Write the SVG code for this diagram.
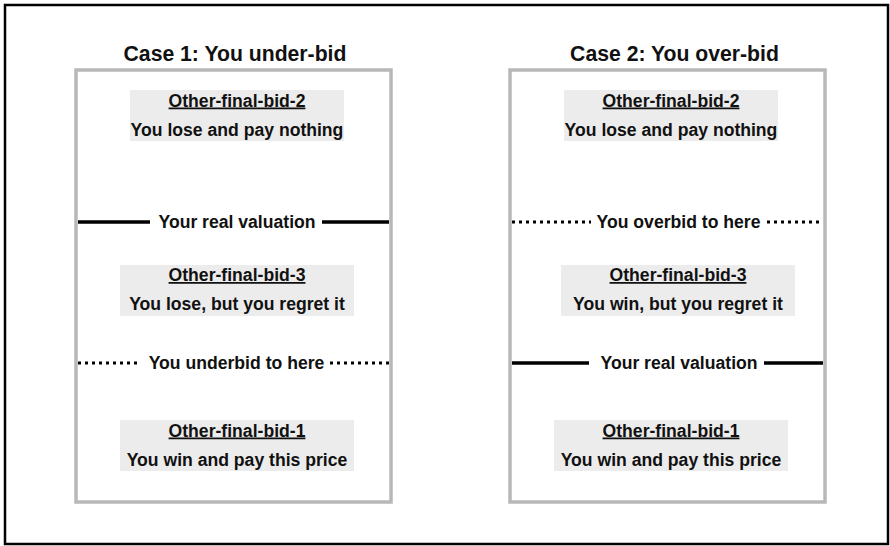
<svg xmlns="http://www.w3.org/2000/svg" width="890" height="546" viewBox="0 0 890 546">
<style>
text{font-family:"Liberation Sans",Arial,sans-serif;font-weight:bold;fill:#111;text-anchor:middle}
.title{font-size:21.2px}
.lbl{font-size:17.6px}
.u{text-decoration:underline}
.panel{fill:#fff;stroke:#b8b8b8;stroke-width:3.5}
.box{fill:#ececec;stroke:none}
.solid{stroke:#000;stroke-width:3.5;fill:none}
.dot{stroke:#000;stroke-width:3;fill:none;stroke-dasharray:3 4}
</style>
<rect x="0" y="0" width="890" height="546" fill="#fff"/>
<rect x="5" y="5" width="883" height="539" fill="none" stroke="#000" stroke-width="2.5"/>

<g id="case1">
  <text class="title" x="235" y="61">Case 1: You under-bid</text>
  <rect class="panel" x="76" y="70" width="315" height="432"/>
</g>
<g id="case2">
  <text class="title" x="674.5" y="61">Case 2: You over-bid</text>
  <rect class="panel" x="510" y="70" width="315" height="432"/>
</g>

<g id="c1-bid2">
  <rect class="box" x="130" y="90" width="214" height="51"/>
  <text class="lbl u" x="237" y="106.5">Other-final-bid-2</text>
  <text class="lbl" x="237" y="135.5">You lose and pay nothing</text>
</g>
<g id="c1-bid3">
  <rect class="box" x="120" y="265" width="234" height="51"/>
  <text class="lbl u" x="237" y="281">Other-final-bid-3</text>
  <text class="lbl" x="237" y="310">You lose, but you regret it</text>
</g>
<g id="c1-bid1">
  <rect class="box" x="120" y="420" width="234" height="51"/>
  <text class="lbl u" x="237" y="436.5">Other-final-bid-1</text>
  <text class="lbl" x="237" y="466">You win and pay this price</text>
</g>

<g id="c2-bid2">
  <rect class="box" x="564" y="90" width="214" height="51"/>
  <text class="lbl u" x="671" y="106.5">Other-final-bid-2</text>
  <text class="lbl" x="671" y="135.5">You lose and pay nothing</text>
</g>
<g id="c2-bid3">
  <rect class="box" x="561" y="265" width="234" height="51"/>
  <text class="lbl u" x="678" y="281">Other-final-bid-3</text>
  <text class="lbl" x="678" y="310">You win, but you regret it</text>
</g>
<g id="c2-bid1">
  <rect class="box" x="554" y="420" width="234" height="51"/>
  <text class="lbl u" x="671" y="436.5">Other-final-bid-1</text>
  <text class="lbl" x="671" y="466">You win and pay this price</text>
</g>

<g id="c1-valuation">
  <path class="solid" d="M78 222H150M322 222H389"/>
  <text class="lbl" x="237" y="227.5">Your real valuation</text>
</g>
<g id="c1-underbid">
  <path class="dot" d="M78 363H140M330 363H389"/>
  <text class="lbl" x="236.5" y="368.5">You underbid to here</text>
</g>
<g id="c2-overbid">
  <path class="dot" d="M512 222H591M767 222H823"/>
  <text class="lbl" x="678.5" y="227.5">You overbid to here</text>
</g>
<g id="c2-valuation">
  <path class="solid" d="M512 363H589M764 363H823"/>
  <text class="lbl" x="679" y="368.5">Your real valuation</text>
</g>
</svg>
